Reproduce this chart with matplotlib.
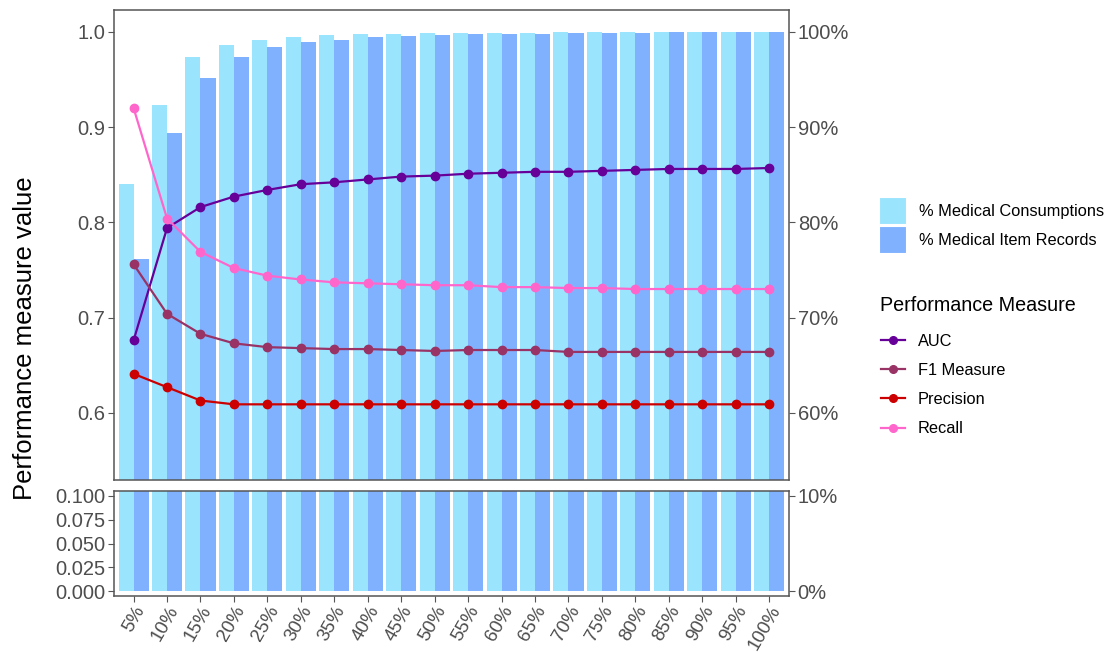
import numpy as np
import matplotlib; matplotlib.use('Agg')
import matplotlib.pyplot as plt
from matplotlib.patches import Patch
from matplotlib.lines import Line2D

plt.rcParams['font.family'] = ['Liberation Sans', 'DejaVu Sans']

# sampling ratio categories
cats = ['5%','10%','15%','20%','25%','30%','35%','40%','45%','50%',
        '55%','60%','65%','70%','75%','80%','85%','90%','95%','100%']

# coverage bars (percent)
consumptions = [84.0, 92.3, 97.3, 98.6, 99.1, 99.4, 99.7, 99.8, 99.8, 99.9,
                99.9, 99.9, 99.9, 100.0, 100.0, 100.0, 100.0, 100.0, 100.0, 100.0]
item_records = [76.1, 89.4, 95.1, 97.3, 98.4, 98.9, 99.1, 99.4, 99.5, 99.7,
                99.8, 99.8, 99.8, 99.9, 99.9, 99.9, 100.0, 100.0, 100.0, 100.0]

# performance measures
auc       = [0.676, 0.794, 0.816, 0.827, 0.834, 0.840, 0.842, 0.845, 0.848, 0.849,
             0.851, 0.852, 0.853, 0.853, 0.854, 0.855, 0.856, 0.856, 0.856, 0.857]
f1        = [0.756, 0.704, 0.683, 0.673, 0.669, 0.668, 0.667, 0.667, 0.666, 0.665,
             0.666, 0.666, 0.666, 0.664, 0.664, 0.664, 0.664, 0.664, 0.664, 0.664]
precision = [0.641, 0.627, 0.613, 0.609, 0.609, 0.609, 0.609, 0.609, 0.609, 0.609,
             0.609, 0.609, 0.609, 0.609, 0.609, 0.609, 0.609, 0.609, 0.609, 0.609]
recall    = [0.920, 0.804, 0.769, 0.752, 0.744, 0.740, 0.737, 0.736, 0.735, 0.734,
             0.734, 0.732, 0.732, 0.731, 0.731, 0.730, 0.730, 0.730, 0.730, 0.730]

measures = [('AUC', auc, '#660099'), ('F1 Measure', f1, '#993366'),
            ('Precision', precision, '#CC0000'), ('Recall', recall, '#FF66CC')]
C_LIGHT, C_DARK = '#9AE4FE', '#80B1FF'
TXT = '#4D4D4D'; EDGE = '#555555'
FS = 14.5

W, H = 1111, 652
fig = plt.figure(figsize=(W/100, H/100), dpi=100)
L, R = 113.5/W, 789.3/W
ax_top = fig.add_axes([L, 1-480/H, R-L, 470/H])
ax_bot = fig.add_axes([L, 1-596/H, R-L, 105/H])

x = np.arange(len(cats))
bw = 0.45
for ax in (ax_top, ax_bot):
    ax.bar(x - bw/2, np.array(consumptions)/100, width=bw, color=C_LIGHT, lw=0, zorder=1)
    ax.bar(x + bw/2, np.array(item_records)/100, width=bw, color=C_DARK, lw=0, zorder=1)
    ax.set_xlim(-0.6, len(cats) - 0.4)
    for s in ax.spines.values():
        s.set_color(EDGE); s.set_linewidth(1.1)
    ax.tick_params(colors=EDGE, labelcolor=TXT, labelsize=FS, length=4, pad=2)

for name, vals, col in measures:
    ax_top.plot(x, vals, '-o', color=col, lw=1.6, ms=6, zorder=3)

ax_top.set_ylim(0.5296, 1.0228)
ax_top.set_yticks([0.6, 0.7, 0.8, 0.9, 1.0])
ax_top.set_yticklabels(['0.6', '0.7', '0.8', '0.9', '1.0'])
ax_top.set_xticks(x); ax_top.tick_params(axis='x', bottom=False, labelbottom=False)

ax_bot.set_ylim(-0.005, 0.105)
ax_bot.set_yticks([0, 0.025, 0.05, 0.075, 0.1])
ax_bot.set_yticklabels(['0.000', '0.025', '0.050', '0.075', '0.100'])
ax_bot.set_xticks(x)
ax_bot.set_xticklabels(cats, rotation=60, ha='right', va='top', rotation_mode='anchor')
ax_bot.tick_params(axis='x', pad=1, labelsize=13.5)

# secondary percentage axes
for ax, ticks in ((ax_top, [0.6, 0.7, 0.8, 0.9, 1.0]), (ax_bot, [0, 0.1])):
    tw = ax.twinx()
    tw.set_ylim(ax.get_ylim())
    tw.set_yticks(ticks)
    tw.set_yticklabels([f'{round(t*100)}%' for t in ticks])
    tw.tick_params(colors=EDGE, labelcolor=TXT, labelsize=FS, length=4, pad=2)
    for s in tw.spines.values():
        s.set_visible(False)

fig.text(0.0225, 0.481, 'Performance measure value', rotation=90, ha='center', va='center',
         fontsize=18.5, color='black')

# legends
bar_handles = [Patch(facecolor=C_LIGHT, edgecolor='white', lw=0.8),
               Patch(facecolor=C_DARK, edgecolor='white', lw=0.8)]
fig.legend(bar_handles, ['% Medical Consumptions', '% Medical Item Records'],
           loc='upper left', bbox_to_anchor=(879/W, 1-197/H), frameon=False,
           fontsize=11.8, handlelength=1.65, handleheight=2.16, labelspacing=0.12,
           handletextpad=0.8, borderpad=0, borderaxespad=0)
fig.text(880/W, 1-305/H, 'Performance Measure', ha='left', va='center', fontsize=14.2)
line_handles = [Line2D([], [], color=c, lw=1.6, marker='o', ms=5.5) for _, _, c in measures]
fig.legend(line_handles, [n for n, _, _ in measures],
           loc='upper left', bbox_to_anchor=(881/W, 1-334/H), frameon=False,
           fontsize=11.8, handlelength=1.46, labelspacing=0.86,
           handletextpad=0.8, borderpad=0, borderaxespad=0)

fig.savefig('out.png', dpi=100)
